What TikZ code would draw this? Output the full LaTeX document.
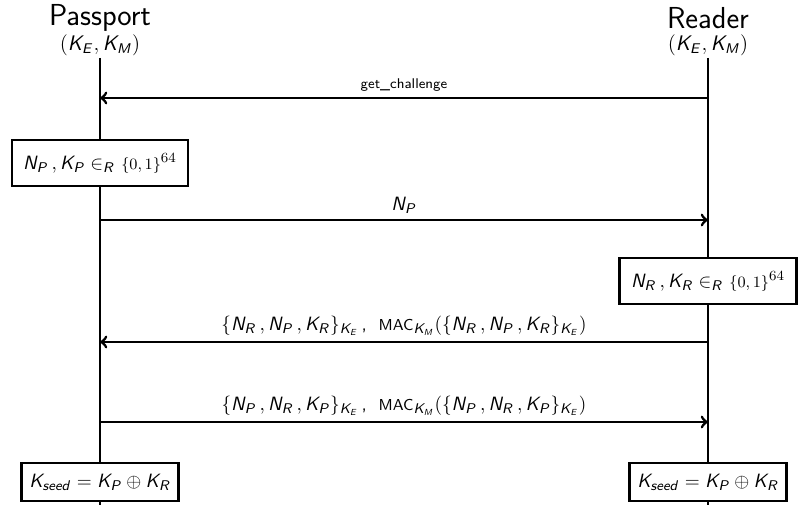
\documentclass[tikz,border=0pt]{standalone}
\usepackage{amsmath}
\usetikzlibrary{positioning}

\DeclareMathAlphabet{\mathsi}{OT1}{cmss}{m}{sl}
\newcommand{\sm}[1]{\ensuremath{\mathsi{#1}}}
\newcommand{\labelsize}{\fontsize{10.8pt}{13pt}\selectfont}

\tikzset{
	actor/.style={font=\LARGE},
	keys/.style={font=\large},
	stepbox/.style={draw, line width=1.4pt, fill=white, inner xsep=6.5pt, inner ysep=7.5pt, font=\labelsize},
	msg/.style={line width=1.6pt, ->},
	msglabel/.style={above, font=\labelsize, inner sep=3pt}
}

\newcommand{\bits}{\text{\small$\{0,1\}$}}

\begin{document}
\sffamily
\begin{tikzpicture}
	\useasboundingbox (0,0) rectangle (16,10.16);

	% participants
	\node[actor] (passport) at (2,9.80) {Passport};
	\node[keys] (pkeys) at (2,9.26) {\sm{(K_E,K_M)}};
	\node[actor] (reader) at (14.16,9.80) {Reader};
	\node[keys] (rkeys) at (14.16,9.26) {\sm{(K_E,K_M)}};

	% lifelines
	\coordinate (ptop) at (2,9.0);
	\coordinate (pbot) at (2,0.06);
	\coordinate (rtop) at (14.16,9.0);
	\coordinate (rbot) at (14.16,0.06);
	\draw[line width=1.6pt] (ptop) -- (pbot);
	\draw[line width=1.6pt] (rtop) -- (rbot);

	% message points
	\coordinate (p1) at (2,8.20);   \coordinate (r1) at (14.16,8.20);
	\coordinate (p2) at (2,5.76);   \coordinate (r2) at (14.16,5.76);
	\coordinate (p3) at (2,3.32);   \coordinate (r3) at (14.16,3.32);
	\coordinate (p4) at (2,1.72);   \coordinate (r4) at (14.16,1.72);

	% messages
	\draw[msg] (r1) -- node[msglabel, font=\footnotesize] (m1) {get\_challenge} (p1);
	\draw[msg] (p2) -- node[msglabel] (m2) {\sm{N_P}} (r2);
	\draw[msg] (r3) -- node[msglabel] (m3)
		{\sm{\{N_R\,,N_P\,,K_R\}_{K_E}}\,,\; {\small MAC}$_{\mathsi{K_M}}$\sm{(\{N_R\,,N_P\,,K_R\}_{K_E})}} (p3);
	\draw[msg] (p4) -- node[msglabel] (m4)
		{\sm{\{N_P\,,N_R\,,K_P\}_{K_E}}\,,\; {\small MAC}$_{\mathsi{K_M}}$\sm{(\{N_P\,,N_R\,,K_P\}_{K_E})}} (r4);

	% local steps
	\node[stepbox] (pnonce) at (2,6.9) {\sm{N_P\,,K_P \in_R} $\bits^{64}$};
	\node[stepbox] (rnonce) at (14.16,4.54) {\sm{N_R\,,K_R \in_R} $\bits^{64}$};
	\node[stepbox, inner xsep=4.5pt, inner ysep=6pt] (pseed) at (2,0.52) {\sm{K_{seed} = K_P \oplus K_R}};
	\node[stepbox, inner xsep=4.5pt, inner ysep=6pt] (rseed) at (14.16,0.52) {\sm{K_{seed} = K_P \oplus K_R}};

\end{tikzpicture}
\end{document}
